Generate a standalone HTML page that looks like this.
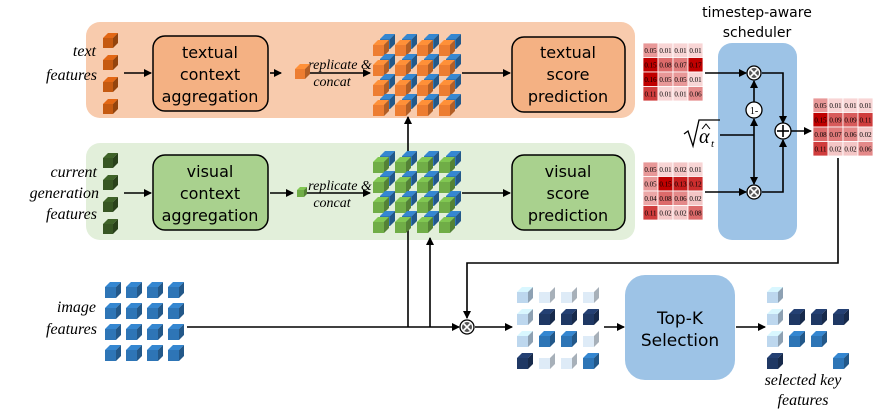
<!DOCTYPE html>
<html><head><meta charset="utf-8"><style>
html,body{margin:0;padding:0;background:#fff}
svg{display:block}
.c{font-family:"DejaVu Sans","Liberation Sans",sans-serif;font-size:16px;text-anchor:middle}
.i{font-family:"Liberation Serif",serif;font-style:italic;font-size:16px;text-anchor:end}
.r{font-family:"Liberation Serif",serif;font-style:italic;font-size:14px;text-anchor:middle}
.m{font-family:"Liberation Serif",serif;font-size:7px;text-anchor:middle}
</style></head><body>
<svg id="s" width="879" height="420" viewBox="0 0 879 420" xmlns="http://www.w3.org/2000/svg">
<defs><marker id="a" markerWidth="8" markerHeight="8" refX="7" refY="4" orient="auto" markerUnits="userSpaceOnUse"><path d="M0,0 L8,4 L0,8 z" fill="#000"/></marker></defs>
<rect x="86" y="22" width="549" height="96" rx="14" fill="#f8cbad"/>
<rect x="86" y="143" width="549" height="97" rx="14" fill="#e2efda"/>
<rect x="718" y="43" width="79" height="197" rx="14" fill="#9dc3e6"/>
<rect x="153" y="36" width="115" height="75" rx="12" fill="#f4b183" stroke="#000" stroke-width="1.5"/>
<rect x="512" y="37" width="113" height="75" rx="12" fill="#f4b183" stroke="#000" stroke-width="1.5"/>
<rect x="153" y="155" width="115" height="75" rx="12" fill="#a9d18e" stroke="#000" stroke-width="1.5"/>
<rect x="512" y="155" width="113" height="75" rx="12" fill="#a9d18e" stroke="#000" stroke-width="1.5"/>
<rect x="625" y="275" width="110" height="105" rx="20" fill="#9dc3e6"/>
<g class="c">
<text x="210" y="58">textual</text><text x="210" y="80">context</text><text x="210" y="102">aggregation</text>
<text x="568" y="58">textual</text><text x="568" y="80">score</text><text x="568" y="102">prediction</text>
<text x="210" y="177">visual</text><text x="210" y="199">context</text><text x="210" y="221">aggregation</text>
<text x="568" y="177">visual</text><text x="568" y="199">score</text><text x="568" y="221">prediction</text>
<text x="680" y="324" font-size="17">Top-K</text><text x="680" y="346" font-size="17">Selection</text>
<text x="757" y="17" font-size="14">timestep-aware</text><text x="757" y="37" font-size="14">scheduler</text>
</g>
<g class="i">
<text x="96" y="56">text</text><text x="97" y="80">features</text>
<text x="97" y="177">current</text><text x="99" y="198">generation</text><text x="97" y="219">features</text>
<text x="96" y="312">image</text><text x="97" y="334">features</text>
</g>
<g class="r">
<text x="340" y="69">replicate &amp;</text><text x="332" y="86">concat</text>
<text x="340" y="190">replicate &amp;</text><text x="332" y="207">concat</text>
<text x="803" y="385" font-size="16">selected key</text><text x="803" y="405" font-size="16">features</text>
</g>
<path d="M684,134 L688,131 L693,146 L699,120 L720,120" stroke="#000" stroke-width="1.3" fill="none"/>
<text x="699" y="143" font-family="Liberation Serif,serif" font-style="italic" font-size="20">α</text>
<path d="M702,129 L706,124 L710,129" stroke="#000" stroke-width="1" fill="none"/>
<text x="711" y="147" font-family="Liberation Serif,serif" font-style="italic" font-size="11">t</text>
<g stroke="#000" stroke-width="1.6" fill="none">
<line x1="124" y1="73" x2="151" y2="73" marker-end="url(#a)"/>
<line x1="270" y1="73" x2="281" y2="73" marker-end="url(#a)"/>
<line x1="296" y1="73" x2="370" y2="73" marker-end="url(#a)"/>
<line x1="462" y1="73" x2="510" y2="73" marker-end="url(#a)"/>
<line x1="124" y1="193" x2="151" y2="193" marker-end="url(#a)"/>
<line x1="270" y1="193" x2="293" y2="193" marker-end="url(#a)"/>
<line x1="306" y1="193" x2="370" y2="193" marker-end="url(#a)"/>
<line x1="462" y1="193" x2="510" y2="193" marker-end="url(#a)"/>
<line x1="408" y1="327" x2="408" y2="117" marker-end="url(#a)"/>
<line x1="430" y1="327" x2="430" y2="238" marker-end="url(#a)"/>
<line x1="187" y1="327" x2="459" y2="327" marker-end="url(#a)"/>
<line x1="475" y1="327" x2="512" y2="327" marker-end="url(#a)"/>
<polyline points="838,158 838,263 467,263 467,318" marker-end="url(#a)"/>
<line x1="604" y1="327" x2="624" y2="327" marker-end="url(#a)"/>
<line x1="736" y1="327" x2="765" y2="327" marker-end="url(#a)"/>
<line x1="705" y1="73" x2="746" y2="73" marker-end="url(#a)"/>
<line x1="705" y1="192" x2="746" y2="192" marker-end="url(#a)"/>
<line x1="720" y1="135" x2="754" y2="135"/>
<line x1="754" y1="135" x2="754" y2="119" marker-end="url(#a)"/>
<line x1="754" y1="102" x2="754" y2="81" marker-end="url(#a)"/>
<line x1="754" y1="135" x2="754" y2="184" marker-end="url(#a)"/>
<polyline points="762,73 783,73 783,123" marker-end="url(#a)"/>
<polyline points="762,192 783,192 783,140" marker-end="url(#a)"/>
<line x1="791" y1="131" x2="811" y2="131" marker-end="url(#a)"/>
</g>
<g stroke="#000" stroke-width="1.3" fill="#fff">
<circle cx="754" cy="110" r="8"/><circle cx="783" cy="131" r="8"/>
</g>
<text x="754" y="114" font-family="Liberation Serif,serif" font-size="10" text-anchor="middle">1-</text>
<g stroke="#000" stroke-width="1.6"><line x1="777" y1="131" x2="789" y2="131"/><line x1="783" y1="125" x2="783" y2="137"/></g>
<g id="g"></g>
</svg>
<script>
var g=document.getElementById('g'),NS='http://www.w3.org/2000/svg';
function el(t,a){var e=document.createElementNS(NS,t);for(var k in a)e.setAttribute(k,a[k]);g.appendChild(e);return e;}
function sh(c,f){var r=parseInt(c.substr(1,2),16),gg=parseInt(c.substr(3,2),16),b=parseInt(c.substr(5,2),16);function m(v){return Math.max(0,Math.min(255,Math.round(v*f)));}return 'rgb('+m(r)+','+m(gg)+','+m(b)+')';}
function cube(x,y,s,c){var d=Math.round(s*0.3),w=s-d;
el('rect',{x:x,y:y+d,width:w,height:w,fill:c});
el('polygon',{points:[x,y+d,x+d,y,x+s,y,x+w,y+d].join(' '),fill:sh(c,1.15)});
el('polygon',{points:[x+w,y+d,x+s,y,x+s,y+w,x+w,y+s].join(' '),fill:sh(c,0.75)});}
function otimes(cx,cy){el('circle',{cx:cx,cy:cy,r:7,fill:'#fff',stroke:'#000','stroke-width':1.3});
el('circle',{cx:cx,cy:cy,r:5,fill:'#555'});
el('path',{d:'M'+(cx-3.5)+','+(cy-3.5)+'L'+(cx+3.5)+','+(cy+3.5)+'M'+(cx+3.5)+','+(cy-3.5)+'L'+(cx-3.5)+','+(cy+3.5),stroke:'#fff','stroke-width':1.6});}
var i,j;
for(i=0;i<4;i++){cube(103,33+i*22,15,'#c55a11');cube(103,153+i*22,15,'#375623');}
cube(295,64,15,'#ed7d31');cube(297,187,10,'#70ad47');
for(i=0;i<4;i++)for(j=0;j<4;j++){cube(380+j*22,34+i*20,15,'#2e75b6');cube(373+j*22,40+i*20,16,'#ed7d31');}
for(i=0;i<4;i++)for(j=0;j<4;j++){cube(380+j*22,151+i*20,15,'#2e75b6');cube(373+j*22,157+i*20,16,'#70ad47');}
for(i=0;i<4;i++)for(j=0;j<4;j++)cube(105+j*21,282+i*21,16,'#2e75b6');
var L='#bdd7ee',V='#deebf7',D='#1f3864',M='#2e75b6';
var sc=[[L,V,V,V],[L,D,D,D],[L,M,M,V],[D,V,V,M]];
var se=[[L,0,0,0],[L,D,D,D],[L,M,M,0],[D,0,0,M]];
for(i=0;i<4;i++)for(j=0;j<4;j++){cube(517+j*22,287+i*22,16,sc[i][j]);if(se[i][j])cube(767+j*22,287+i*22,16,se[i][j]);}
function mat(x,y,v){for(i=0;i<4;i++)for(j=0;j<4;j++){var t=Math.min(1,v[i][j]/0.15);
var r=Math.round(252-60*t),gg=Math.round(228-228*t),b=Math.round(228-228*t);
el('rect',{x:x+j*15,y:y+i*14.5,width:15,height:14.5,fill:'rgb('+r+','+gg+','+b+')',stroke:'#fff','stroke-width':0.8});
var tx=el('text',{x:x+j*15+7.5,y:y+i*14.5+10,'class':'m'});tx.textContent=v[i][j].toFixed(2);}}
mat(643,43,[[.05,.01,.01,.01],[.15,.08,.07,.17],[.16,.05,.05,.01],[.11,.01,.01,.06]]);
mat(643,162,[[.05,.01,.02,.01],[.05,.15,.13,.12],[.04,.08,.06,.02],[.11,.02,.02,.08]]);
mat(813,98,[[.05,.01,.01,.01],[.15,.09,.09,.11],[.08,.07,.06,.02],[.11,.02,.02,.06]]);
otimes(754,73);otimes(754,192);otimes(467,327);
</script>
</body></html>
